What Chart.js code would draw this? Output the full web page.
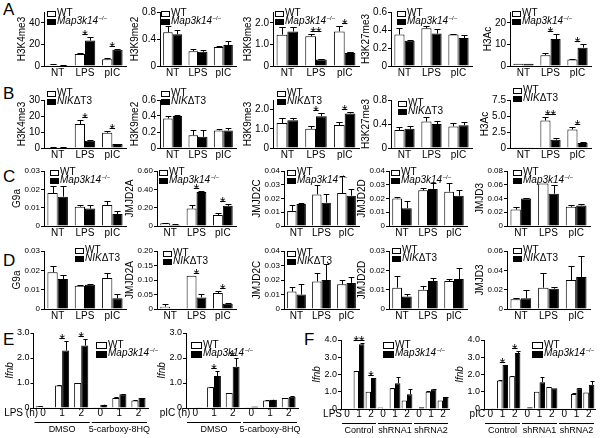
<!DOCTYPE html>
<html>
<head>
<meta charset="utf-8">
<script src="https://cdn.jsdelivr.net/npm/chart.js@4.4.0/dist/chart.umd.min.js"></script>
<style>
  body { margin: 0; width: 600px; height: 438px; background: #fff; position: relative; overflow: hidden;
         font-family: "Liberation Sans", Arial, sans-serif; }
  canvas { position: absolute; }
  .letter { position: absolute; font-size: 17px; line-height: 1; color: #000; }
</style>
</head>
<body>
<div class="letter" style="left:3px;top:1px">A</div>
<div class="letter" style="left:3px;top:85px">B</div>
<div class="letter" style="left:3px;top:168px">C</div>
<div class="letter" style="left:3px;top:252px">D</div>
<div class="letter" style="left:3px;top:331px">E</div>
<div class="letter" style="left:304px;top:331px">F</div>
<script>
// ---- data ----
const histCats = ['NT', 'LPS', 'pIC'];
const timeCatsE = ['0', '1', '2', '0', '1', '2'];
const timeCatsF = ['0', '1', '2', '0', '1', '2', '0', '1', '2'];
const groupsE = ['DMSO', '5-carboxy-8HQ'];
const groupsF = ['Control', 'shRNA1', 'shRNA2'];

// A: histone marks, WT vs Map3k14-/-
const rowATitles = ['H3K4me3', 'H3K9me2', 'H3K9me3', 'H3K27me3', 'H3Ac'];
const rowATicks = [['0','10','20','30','40','50'], ['0','0.2','0.4','0.6','0.8'], ['0','0.5','1.0','1.5','2.0','2.5'], ['0','0.2','0.4','0.6'], ['0','5','10','15','20','25']];
const rowAWT = [[1.2, 11, 6.2], [0.5, 0.22, 0.28], [1.45, 1.38, 1.6], [0.35, 0.42, 0.35], [1, 5, 3]];
const rowAWTErr = [[0.3, 1.5, 1], [0.1, 0.03, 0.02], [0.35, 0.12, 0.25], [0.07, 0.03, 0.01], [0, 0.8, 0.3]];
const rowAKO = [[0.8, 23.5, 15], [0.47, 0.21, 0.31], [1.6, 0.3, 0.6], [0.28, 0.36, 0.31], [1, 12.5, 8.5]];
const rowAKOErr = [[0.2, 3, 1], [0.07, 0.03, 0.06], [0.2, 0.03, 0.03], [0.01, 0.05, 0.04], [0, 2.2, 1.8]];
const rowAStars = [['', '*', '*'], [], ['', '**', '*'], [], ['', '*', '*']];

// B: histone marks, WT vs NIKdT3
const rowBTitles = ['H3K4me3', 'H3K9me2', 'H3K9me3', 'H3K27me3', 'H3Ac'];
const rowBTicks = [['0','10','20','30'], ['0','0.2','0.4','0.6'], ['0','0.5','1.0','1.5','2.0','2.5'], ['0','0.2','0.4','0.6','0.8'], ['0','2.5','5.0','7.5']];
const rowBWT = [[0.5, 15, 9.5], [0.37, 0.16, 0.22], [1.3, 1.0, 1.2], [0.3, 0.44, 0.36], [0.1, 4.3, 2.9]];
const rowBWTErr = [[0.2, 2.5, 1], [0.03, 0.06, 0.02], [0.25, 0.12, 0.15], [0.05, 0.08, 0.05], [0, 0.6, 0.4]];
const rowBKO = [[0.5, 4.5, 2.5], [0.4, 0.14, 0.22], [1.45, 1.65, 1.8], [0.32, 0.4, 0.38], [0.1, 1.3, 0.8]];
const rowBKOErr = [[0.1, 0.4, 0.3], [0.01, 0.08, 0.03], [0.12, 0.15, 0.1], [0.05, 0.05, 0.05], [0, 0.2, 0.1]];
const rowBStars = [['', '*', '*'], [], ['', '*', '*'], [], ['', '**', '*']];

// C: histone modifiers, WT vs Map3k14-/-
const rowCTitles = ['G9a', 'JMJD2A', 'JMJD2C', 'JMJD2D', 'JMJD3'];
const rowCTicks = [['0','0.01','0.02','0.03'], ['0','0.20','0.40','0.60'], ['0','0.01','0.02','0.03','0.04'], ['0','0.01','0.02','0.03','0.04'], ['0','0.02','0.04','0.06','0.08']];
const rowCWT = [[0.018, 0.0105, 0.0115], [0.03, 0.19, 0.12], [0.011, 0.023, 0.024], [0.020, 0.026, 0.025], [0.024, 0.062, 0.028]];
const rowCWTErr = [[0.004, 0.001, 0.002], [0.005, 0.04, 0.02], [0.004, 0.007, 0.012], [0.0008, 0.002, 0.006], [0.003, 0, 0.003]];
const rowCKO = [[0.016, 0.0095, 0.0065], [0.015, 0.37, 0.22], [0.016, 0.017, 0.022], [0.013, 0.027, 0.022], [0.04, 0.047, 0.03]];
const rowCKOErr = [[0.006, 0.002, 0.0015], [0.003, 0.01, 0.02], [0.001, 0.006, 0.005], [0.005, 0.004, 0.004], [0.001, 0.013, 0.002]];
const rowCStars = [[], ['', '*', '*'], [], [], []];

// D: histone modifiers, WT vs NIKdT3
const rowDTitles = ['G9a', 'JMJD2A', 'JMJD2C', 'JMJD2D', 'JMJD3'];
const rowDTicks = [['0','0.01','0.02','0.03'], ['0','0.05','0.10','0.15','0.20'], ['0','0.01','0.02','0.03','0.04'], ['0','0.01','0.02','0.03'], ['0','0.02','0.04','0.06']];
const rowDWT = [[0.019, 0.012, 0.016], [0.008, 0.115, 0.055], [0.012, 0.019, 0.017], [0.011, 0.010, 0.0145], [0.010, 0.022, 0.030]];
const rowDWTErr = [[0.0035, 0.0003, 0.0025], [0.008, 0, 0.008], [0.003, 0.006, 0.003], [0.006, 0.002, 0.001], [0.001, 0.015, 0.014]];
const rowDKO = [[0.0155, 0.0125, 0.0055], [0.002, 0.04, 0.018], [0.010, 0.020, 0.018], [0.0065, 0.0145, 0.0155], [0.011, 0.021, 0.033]];
const rowDKOErr = [[0.002, 0.0006, 0.0025], [0, 0.012, 0.002], [0.007, 0.011, 0.004], [0.0015, 0.0015, 0.0055], [0.009, 0.002, 0.022]];
const rowDStars = [[], ['', '*', '*'], [], [], []];

// E: Ifnb, DMSO vs 5-carboxy-8HQ
const rowETicks = ['0', '1.0', '2.0', '3.0'];
const rowEWT = [[0.07, 0.9, 1.0, 0.03, 0.4, 0.3], [0.02, 0.83, 0.6, 0.03, 0.3, 0.4]];
const rowEWTErr = [[0.01, 0.02, 0, 0, 0.03, 0.02], [0, 0.02, 0.02, 0, 0.01, 0.02]];
const rowEKO = [[0.03, 2.3, 2.5, 0.13, 0.55, 0.4], [0.01, 1.28, 1.65, 0.06, 0.33, 0.45]];
const rowEKOErr = [[0, 0.4, 0.25, 0.01, 0.02, 0.02], [0, 0.22, 0.35, 0, 0.01, 0.02]];
const rowEStars = [['', '*', '*'], ['', '*', '*']];
const rowEStim = ['LPS (h)', 'pIC (h)'];

// F: Ifnb, control vs shRNA
const rowFTicks = ['0', '1.0', '2.0', '3.0', '4.0'];
const rowFWT = [[0.03, 2.2, 1.0, 0.08, 1.2, 0.5, 0.03, 1.0, 0.5], [0.03, 1.65, 1.9, 0.05, 1.0, 1.28, 0, 0.87, 0.95]];
const rowFWTErr = [[0, 0, 0, 0, 0.02, 0, 0, 0.02, 0], [0, 0.05, 0.03, 0, 0, 0, 0, 0.05, 0]];
const rowFKO = [[0.03, 3.75, 1.8, 0.03, 1.5, 0.85, 0.1, 1.15, 0.7], [0.02, 2.55, 3.25, 0.1, 1.55, 1.2, 0, 1.2, 1.4]];
const rowFKOErr = [[0, 0.05, 0, 0, 0.35, 0.3, 0, 0.02, 0.02], [0, 0.02, 0.1, 0, 0.3, 0, 0, 0.02, 0.22]];
const rowFStars = [['', '**', '*'], ['', '*', '*']];
const rowFStim = ['LPS', 'pIC'];

const koMap = [['Map3k14', 'italic'], ['\u2013/\u2013', 'sup']];
const koNik = [['NIK', 'italic'], ['\u0394T3', 'normal']];

// ---- layout (page pixels) ----
const colsAB = [[44, 126], [160, 236], [273, 359], [391, 472], [510, 591]];
const colsCD = [[44, 126], [157, 236], [284, 359], [389, 467], [507, 590]];
const legXA = [47, 161, 275, 397, 512];
const legXB = [47, 161, 277, 398, 513];
const legYB = [93, 93, 93, 103, 90];
const legXC = [50, 159, 287, 391, 513];
const legXD = [75, 163, 287, 392, 513];
const legYD = [250, 253, 253, 250, 250];

const FONT = '"Liberation Sans", Arial, sans-serif';
Chart.defaults.font.family = FONT;
Chart.defaults.font.size = 10;
Chart.defaults.color = '#000';

const measureCtx = document.createElement('canvas').getContext('2d');
function textW(list, size) {
  measureCtx.font = size + 'px ' + FONT;
  return Math.max(...list.map(s => measureCtx.measureText(s).width));
}

function makeExtras(p, cLeft, cTop) {
  return {
    id: 'extras',
    afterDatasetsDraw(chart) {
      const ctx = chart.ctx, ys = chart.scales.y, xs = chart.scales.x;
      ctx.save();
      ctx.strokeStyle = '#000';
      ctx.fillStyle = '#000';
      ctx.lineWidth = 1;
      // error bars (upper only)
      chart.data.datasets.forEach((ds, di) => {
        chart.getDatasetMeta(di).data.forEach((bar, i) => {
          const e = ds.err[i];
          if (!e) return;
          const x = Math.round(bar.x) + 0.5;
          const y0 = ys.getPixelForValue(ds.data[i]);
          const y1 = Math.round(ys.getPixelForValue(ds.data[i] + e)) + 0.5;
          const cap = Math.max(2, bar.width * 0.3);
          ctx.beginPath();
          ctx.moveTo(x, y0); ctx.lineTo(x, y1);
          ctx.moveTo(x - cap, y1); ctx.lineTo(x + cap, y1);
          ctx.stroke();
        });
      });
      // significance stars
      (p.stars || []).forEach((s, i) => {
        if (!s) return;
        const top = Math.min(...chart.data.datasets.map(ds => ys.getPixelForValue(ds.data[i] + (ds.err[i] || 0))));
        const x = xs.getPixelForValue(i);
        ctx.font = '14px ' + FONT;
        ctx.textAlign = 'center';
        ctx.textBaseline = 'alphabetic';
        const tw = ctx.measureText(s).width;
        const ly = Math.round(top - 3) + 0.5;
        ctx.beginPath(); ctx.moveTo(x - tw / 2, ly); ctx.lineTo(x + tw / 2, ly); ctx.stroke();
        ctx.fillText(s, x, ly + 5);
      });
      // group underlines and stimulus label
      if (p.groups) {
        const step = xs.getPixelForValue(1) - xs.getPixelForValue(0);
        const yb = chart.chartArea.bottom;
        ctx.textBaseline = 'middle';
        ctx.textAlign = 'center';
        ctx.font = '9px ' + FONT;
        p.groups.forEach((g, gi) => {
          const x0 = xs.getPixelForValue(gi * p.groupSize) - step / 2 + 1;
          const x1 = xs.getPixelForValue(gi * p.groupSize + p.groupSize - 1) + step / 2 - 1;
          const ly = Math.round(yb + 14) + 0.5;
          ctx.beginPath(); ctx.moveTo(x0, ly); ctx.lineTo(x1, ly); ctx.stroke();
          ctx.fillText(g, (x0 + x1) / 2, yb + 22);
        });
        ctx.font = '10px ' + FONT;
        ctx.textAlign = 'right';
        ctx.fillText(p.stim, xs.getPixelForValue(0) - 5, yb + 5);
      }
      ctx.restore();
    },
    afterDraw(chart) {
      const ctx = chart.ctx, L = p.legend;
      ctx.save();
      ctx.strokeStyle = '#000';
      ctx.lineWidth = 1;
      ctx.textBaseline = 'middle';
      ctx.textAlign = 'left';
      const rows = [{ fill: '#fff', parts: [['WT', 'normal']] }, { fill: '#000', parts: p.ko }];
      rows.forEach((row, ri) => {
        const y = L.y + ri * L.dy - cTop;
        const x = L.x - cLeft;
        ctx.fillStyle = row.fill;
        ctx.fillRect(x + 0.5, Math.round(y - L.bh / 2) + 0.5, L.bw, L.bh);
        ctx.strokeRect(x + 0.5, Math.round(y - L.bh / 2) + 0.5, L.bw, L.bh);
        ctx.fillStyle = '#000';
        let tx = x + L.bw + 2;
        row.parts.forEach(([txt, st]) => {
          if (st === 'sup') {
            ctx.font = Math.round(L.size * 0.6) + 'px ' + FONT;
            ctx.fillText(txt, tx + 0.5, y - L.size * 0.3);
          } else {
            ctx.font = (st === 'italic' ? 'italic ' : '') + L.size + 'px ' + FONT;
            ctx.fillText(txt, tx, y);
          }
          tx += ctx.measureText(txt).width + (st === 'sup' ? 0.5 : 0);
        });
      });
      ctx.restore();
    }
  };
}

function addPanel(p) {
  const [l, t, r, b] = p.box;
  const padTop = 16, padR = p.padR || 12, xH = p.xH || 16;
  const yFont = p.yFont || 9;
  // title sits just left of the widest tick label
  const axisLeft = Math.round(l - 4 - textW(p.ticks, yFont) - 1 - 12);
  const cLeft = Math.min(axisLeft, p.cLeft ?? axisLeft);
  const cTop = t - padTop;
  const w = Math.round(r + padR - cLeft), h = Math.round(b + xH - cTop);
  const cv = document.createElement('canvas');
  cv.width = w; cv.height = h;
  Object.assign(cv.style, { left: cLeft + 'px', top: cTop + 'px', width: w + 'px', height: h + 'px' });
  document.body.appendChild(cv);
  const tickVals = p.ticks.map(Number);
  new Chart(cv, {
    type: 'bar',
    data: {
      labels: p.cats,
      datasets: [
        { label: 'WT', data: p.wt, err: p.wtErr, backgroundColor: '#fff', borderColor: '#000', borderWidth: 1 },
        { label: 'KO', data: p.koVals, err: p.koErr, backgroundColor: '#000', borderColor: '#000', borderWidth: 1 }
      ]
    },
    options: {
      responsive: false, animation: false, devicePixelRatio: 1,
      layout: { padding: { left: axisLeft - cLeft, top: padTop, right: padR, bottom: 0 } },
      plugins: { legend: { display: false }, tooltip: { enabled: false } },
      datasets: { bar: { categoryPercentage: p.catPct || 0.75, barPercentage: 1 } },
      scales: {
        x: {
          grid: { display: false, drawTicks: false }, border: { color: '#000' },
          ticks: { font: { size: p.xFont || 10 }, padding: p.xPad ?? 1, maxRotation: 0, autoSkip: false },
          afterFit: s => { s.height = xH; }
        },
        y: {
          min: 0, max: tickVals[tickVals.length - 1],
          grid: { drawOnChartArea: false, tickLength: 3, color: '#000' }, border: { color: '#000' },
          ticks: { font: { size: yFont }, padding: 1, callback: (v, i) => p.ticks[i] },
          afterBuildTicks: s => { s.ticks = tickVals.map(v => ({ value: v })); },
          title: { display: true, text: p.title, padding: 0, font: { size: 10, style: p.italic ? 'italic' : 'normal' } },
          afterFit: s => { s.width = l - axisLeft; }
        }
      }
    },
    plugins: [makeExtras(p, cLeft, cTop)]
  });
}

const legendSmall = { dy: 8.5, bw: 8, bh: 5, size: 10 };

for (let i = 0; i < 5; i++) {
  addPanel({ box: [colsAB[i][0], 12, colsAB[i][1], 66], title: rowATitles[i], cats: histCats,
    ticks: rowATicks[i], wt: rowAWT[i], wtErr: rowAWTErr[i], koVals: rowAKO[i], koErr: rowAKOErr[i], stars: rowAStars[i],
    ko: koMap, legend: Object.assign({ x: legXA[i], y: 13 }, legendSmall), yFont: 10 });
  addPanel({ box: [colsAB[i][0], 100, colsAB[i][1], 148], title: rowBTitles[i], cats: histCats,
    ticks: rowBTicks[i], wt: rowBWT[i], wtErr: rowBWTErr[i], koVals: rowBKO[i], koErr: rowBKOErr[i], stars: rowBStars[i],
    ko: koNik, legend: Object.assign({ x: legXB[i], y: legYB[i] }, legendSmall), yFont: 10 });
  addPanel({ box: [colsCD[i][0], 171, colsCD[i][1], 226], title: rowCTitles[i], cats: histCats,
    ticks: rowCTicks[i], wt: rowCWT[i], wtErr: rowCWTErr[i], koVals: rowCKO[i], koErr: rowCKOErr[i], stars: rowCStars[i],
    ko: koMap, legend: Object.assign({ x: legXC[i], y: 172 }, legendSmall), yFont: 8 });
  addPanel({ box: [colsCD[i][0], 251, colsCD[i][1], 309], title: rowDTitles[i], cats: histCats,
    ticks: rowDTicks[i], wt: rowDWT[i], wtErr: rowDWTErr[i], koVals: rowDKO[i], koErr: rowDKOErr[i], stars: rowDStars[i],
    ko: koNik, legend: Object.assign({ x: legXD[i], y: legYD[i] }, legendSmall), yFont: 8 });
}

const legendBig = { dy: 8.5, bw: 10, bh: 6, size: 10 };
const boxE = [[33.5, 333, 147.5, 408], [186, 333, 298, 408]];
const legXE = [96, 191];
const boxF = [[341, 340, 449, 409], [484, 340, 595, 409]];
const legXF = [383, 532];

for (let i = 0; i < 2; i++) {
  addPanel({ box: boxE[i], cLeft: 0, title: 'Ifnb', italic: true, cats: timeCatsE,
    ticks: rowETicks, wt: rowEWT[i], wtErr: rowEWTErr[i], koVals: rowEKO[i], koErr: rowEKOErr[i], stars: rowEStars[i],
    ko: koMap, legend: Object.assign({ x: legXE[i], y: 345 }, legendBig), catPct: 0.74,
    groups: groupsE, groupSize: 3, stim: rowEStim[i], xH: 30, xPad: -1, padR: 14 });
  addPanel({ box: boxF[i], title: 'Ifnb', italic: true, cats: timeCatsF,
    ticks: rowFTicks, wt: rowFWT[i], wtErr: rowFWTErr[i], koVals: rowFKO[i], koErr: rowFKOErr[i], stars: rowFStars[i],
    ko: koMap, legend: Object.assign({ x: legXF[i], y: 345 }, legendBig), catPct: 0.9,
    groups: groupsF, groupSize: 3, stim: rowFStim[i], xH: 29, xPad: -1, padR: 5 });
}
</script>
</body>
</html>
